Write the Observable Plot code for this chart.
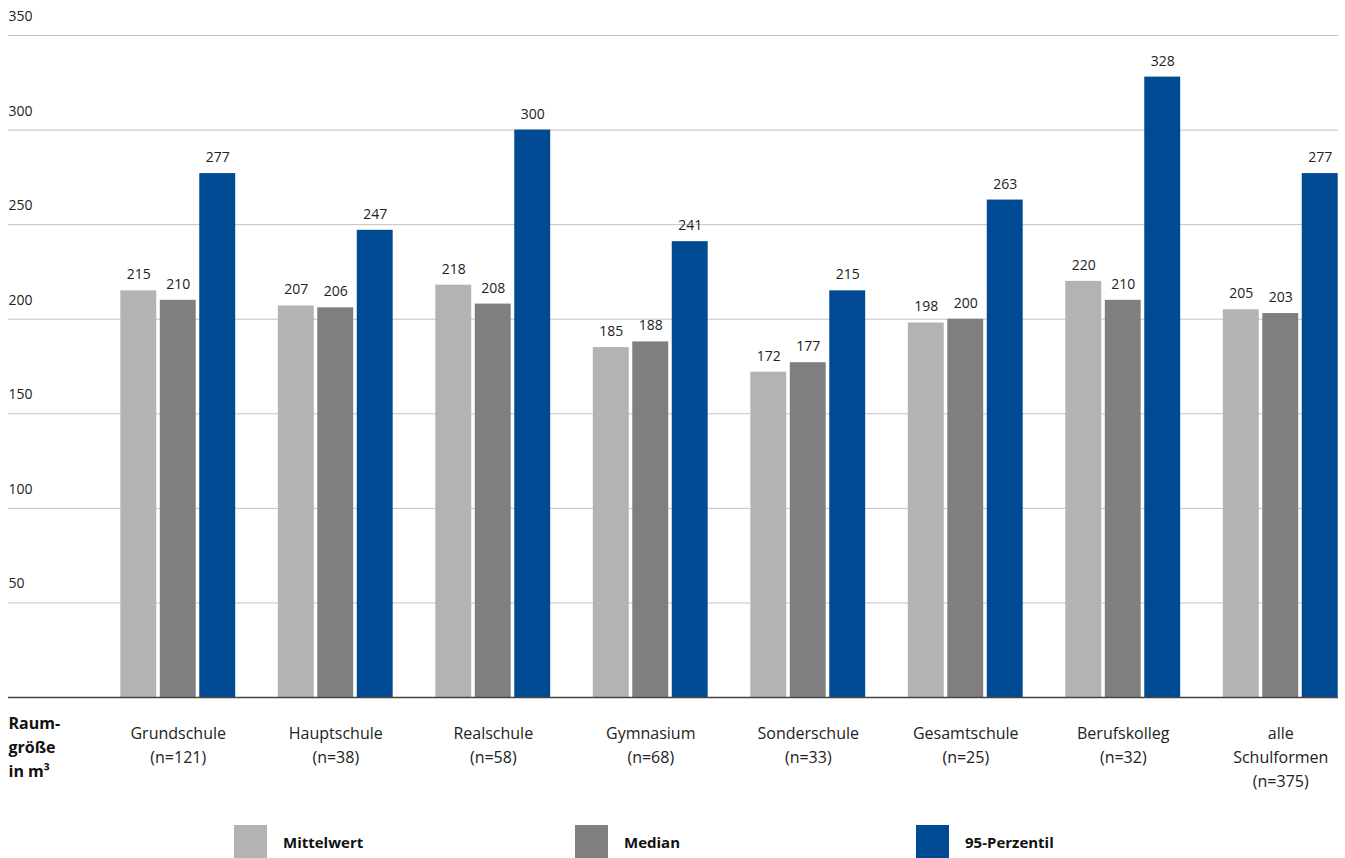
<!DOCTYPE html>
<html><head><meta charset="utf-8">
<script src="https://cdn.jsdelivr.net/npm/d3@7"></script>
<script src="https://cdn.jsdelivr.net/npm/@observablehq/plot@0.6"></script>
<style>
body{margin:0;background:#fff;font-family:"Open Sans",sans-serif;}
#chart{position:relative;width:1345px;height:800px;}
#chart svg{position:absolute;left:0;top:0;background:transparent;}
#legend{display:flex;padding-left:234px;margin-top:25px;}
.item{display:flex;align-items:center;width:341px;}
.sw{width:33px;height:33px;margin-right:16px;flex:none}
.lb{font-weight:700;font-size:15px;color:#111}
</style></head><body><div id="chart"></div><div id="legend"></div>
<script>
const categories = ["Grundschule","Hauptschule","Realschule","Gymnasium","Sonderschule","Gesamtschule","Berufskolleg","alle Schulformen"];
const categoryLabels = ["Grundschule\n(n=121)","Hauptschule\n(n=38)","Realschule\n(n=58)","Gymnasium\n(n=68)","Sonderschule\n(n=33)","Gesamtschule\n(n=25)","Berufskolleg\n(n=32)","alle\nSchulformen\n(n=375)"];
const series = ["Mittelwert","Median","95-Perzentil"];
const mittelwert = [215,207,218,185,172,198,220,205];
const median = [210,206,208,188,177,200,210,203];
const perzentil95 = [277,247,300,241,215,263,328,277];
const yTicks = [50,100,150,200,250,300,350];
const colors = ["#b2b3b5","#7f7f7f","#004a93"];
const axisTitle = "Raum-\ngröße\nin m³";

const valuesBySeries = [mittelwert, median, perzentil95];
const rows = categories.flatMap((c, i) => series.map((s, j) => ({category: c, series: s, value: valuesBySeries[j][i]})));

const common = {
  width: 1345,
  height: 800,
  marginTop: 35,
  marginBottom: 103,
  marginLeft: 8,
  marginRight: 7,
  style: {fontFamily: "Open Sans, sans-serif", fontSize: "14px", color: "#222", background: "transparent"},
  y: {domain: [0, 350], axis: null}
};

// Background layer: gridlines, y tick labels, axis title
const back = Plot.plot({
  ...common,
  marks: [
    Plot.ruleY(yTicks, {y: d => d, stroke: "#c2c2c2", strokeWidth: 1}),
    Plot.text(yTicks, {y: d => d, text: d => String(d), frameAnchor: "left", textAnchor: "start", dy: -19, fontSize: 14, fill: "#222"}),
    Plot.text([axisTitle], {text: d => d, frameAnchor: "bottom-left", textAnchor: "start", lineAnchor: "top", dy: 14, fontSize: 16, fontWeight: 700, lineHeight: 1.5, fill: "#111"})
  ]
});

// Foreground layer: grouped bars, value labels, category labels
const front = Plot.plot({
  ...common,
  fx: {domain: categories, range: [99, 1359], paddingInner: 0, paddingOuter: 0, round: false, axis: null},
  x: {domain: series, paddingInner: 0.09, paddingOuter: 0.54, round: false, axis: null},
  color: {domain: series, range: colors},
  marks: [
    Plot.barY(rows, {fx: "category", x: "series", y: "value", fill: "series"}),
    Plot.text(rows, {fx: "category", x: "series", y: "value", text: d => String(d.value), dy: -16, fontSize: 14, fill: "#222"}),
    Plot.text(categories, {fx: d => d, text: (d, i) => categoryLabels[i], frameAnchor: "bottom", lineAnchor: "top", dy: 24, fontSize: 16, lineHeight: 1.5, fill: "#222"})
  ]
});

// Baseline on top of bars
const base = Plot.plot({
  ...common,
  marks: [Plot.ruleY([0], {stroke: "#444", strokeWidth: 1.5})]
});

const chartDiv = document.getElementById("chart");
chartDiv.appendChild(back);
chartDiv.appendChild(front);
chartDiv.appendChild(base);

const legend = document.getElementById("legend");
series.forEach((s, j) => {
  const item = document.createElement("div");
  item.className = "item";
  const sw = document.createElement("div");
  sw.className = "sw";
  sw.style.background = colors[j];
  const lb = document.createElement("span");
  lb.className = "lb";
  lb.textContent = s;
  item.appendChild(sw); item.appendChild(lb);
  legend.appendChild(item);
});
</script></body></html>
